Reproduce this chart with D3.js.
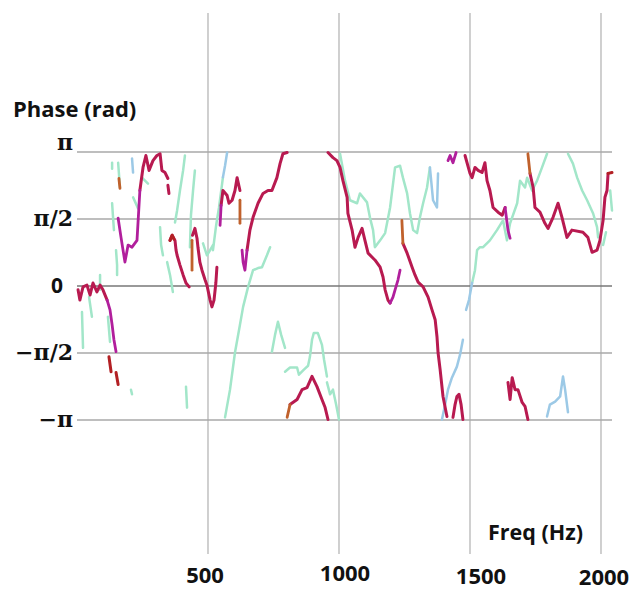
<!DOCTYPE html>
<html><head><meta charset="utf-8">
<script src="https://cdn.jsdelivr.net/npm/d3@7"></script>
<style>body{margin:0;background:#fff}svg{display:block}</style>
</head><body>
<svg id="c" width="632" height="591"></svg>
<script>
// ---- data: [frequency (Hz), phase (rad)] ----
const xTickValues = [500, 1000, 1500, 2000];
const xTickLabels = ["500", "1000", "1500", "2000"];
const yTickValues = [Math.PI, Math.PI / 2, 0, -Math.PI / 2, -Math.PI];
const yTickLabels = ["π", "π/2", "0", "−π/2", "−π"];

const crimsonSegments = [
  [[4,-0.09],[11,-0.33],[23,-0.02],[38,0.02],[50,-0.21],[61,0.07],[76,-0.14],[88,0.02],[99,-0.09],[115,-0.33]],
  [[240,2.24],[252,2.78],[263,3.06],[275,2.71],[290,2.94],[305,3.06],[317,3.10],[324,2.71],[336,2.66],[347,2.52]],
  [[347,2.36],[351,2.17]],
  [[355,1.07],[363,1.19],[374,1.07],[378,0.84],[382,0.72],[393,0.49],[405,0.26],[416,0.07],[428,-0.02]],
  [[441,1.19],[450,1.35],[458,1.12],[462,0.89],[469,0.56],[477,0.37],[489,0.14],[496,0.02],[508,-0.33],[515,-0.49],[523,-0.33],[530,0.07],[534,0.44]],
  [[550,1.89],[557,2.24],[573,2.12],[580,1.94],[592,2.01],[603,2.24],[611,2.54],[622,2.24]],
  [[649,0.84],[660,1.31],[672,1.61],[691,1.94],[710,2.17],[729,2.24],[744,2.24],[763,2.54],[775,2.87],[786,3.10],[802,3.13]],
  [[813,-2.78],[840,-2.66],[859,-2.43],[878,-2.38],[897,-2.12],[916,-2.36],[935,-2.66],[947,-2.85],[958,-3.13]],
  [[958,3.13],[977,3.01],[992,2.94],[1004,2.78],[1015,2.47],[1031,2.08],[1034,1.70],[1050,1.31],[1061,0.91],[1073,1.14],[1088,1.35],[1099,1.07],[1111,0.77],[1137,0.61],[1157,0.44],[1168,0.21],[1176,-0.09],[1187,-0.33],[1195,-0.40]],
  [[1244,1.00],[1260,0.77],[1279,0.44],[1290,0.26],[1302,0.09],[1321,-0.02],[1340,-0.26],[1355,-0.56],[1367,-0.79],[1374,-1.19],[1378,-1.56],[1386,-1.96],[1397,-2.59],[1412,-3.06]],
  [[1435,-3.08],[1443,-2.78],[1450,-2.59],[1458,-2.54],[1466,-2.78],[1473,-3.13]],
  [[1481,3.06],[1500,2.64],[1508,2.54],[1519,2.78],[1531,2.71],[1546,2.66],[1557,2.89],[1565,2.47],[1576,2.24],[1588,1.84],[1607,1.73],[1623,1.66],[1634,1.84]],
  [[1729,2.64],[1741,2.31],[1748,1.84],[1767,1.73],[1786,1.47],[1798,1.35],[1817,1.61],[1836,1.94],[1851,1.61],[1870,1.14],[1889,1.31],[1931,1.26],[1950,1.14],[1966,0.79],[1985,0.84],[1996,1.07],[2008,1.54],[2015,2.08],[2023,2.24],[2027,2.64]],
  [[1645,-2.26],[1653,-2.66],[1661,-2.15],[1672,-2.43],[1683,-2.43],[1699,-2.73],[1710,-2.82],[1721,-3.13]]
];

const darkRedSegments = [
  [[122,-1.66],[130,-2.01]],
  [[149,-2.03],[157,-2.31]],
  [[355,1.07],[363,1.19],[370,1.10]],
  [[2027,2.64],[2042,2.66]]
];

const magentaSegments = [
  [[115,-0.33],[126,-0.56],[134,-0.91],[141,-1.26],[149,-1.54]],
  [[157,1.59],[168,1.14],[183,0.56],[195,0.96],[210,0.91],[229,1.07],[240,2.24]],
  [[546,1.42],[550,1.89]],
  [[630,0.84],[634,0.56],[641,0.37],[649,0.84]],
  [[1195,-0.40],[1206,-0.26],[1214,-0.09],[1225,0.14],[1233,0.37]],
  [[1416,2.94],[1424,3.06],[1435,2.89],[1447,3.13]],
  [[1634,1.84],[1645,1.31],[1653,1.12]]
];

const orangeSegments = [
  [[160,2.52],[164,2.29]],
  [[439,1.07],[439,0.37]],
  [[622,2.01],[622,1.47]],
  [[1240,1.54],[1244,1.00]],
  [[1721,3.10],[1729,2.64]],
  [[802,-3.08],[813,-2.78]]
];

const aquaSegments = [
  [[19,-0.61],[23,-1.45]],
  [[46,-0.26],[57,-0.72]],
  [[88,0.26],[88,-0.09]],
  [[118,-0.72],[126,-1.31]],
  [[206,-2.43],[210,-2.54]],
  [[416,-2.36],[420,-2.85]],
  [[134,2.89],[134,2.75]],
  [[157,2.89],[164,2.31]],
  [[134,1.94],[137,1.66],[141,1.31]],
  [[149,0.84],[153,0.49],[153,0.26]],
  [[214,2.08],[233,1.82]],
  [[248,2.54],[271,2.40]],
  [[412,3.06],[405,2.71],[393,2.24],[382,1.77],[374,1.49]],
  [[450,2.71],[443,2.24],[435,1.66],[431,0.91]],
  [[317,1.38],[321,0.96],[328,0.72]],
  [[344,0.56],[355,0.26],[366,-0.14]],
  [[481,1.00],[496,0.72],[508,0.84],[519,0.96]],
  [[557,2.55],[553,2.36],[542,1.84],[531,1.42],[519,0.84]],
  [[565,-3.08],[584,-2.43],[603,-1.56],[622,-0.91],[634,-0.49],[653,-0.02],[672,0.37],[691,0.42],[706,0.44],[725,0.72],[737,0.91]],
  [[744,-1.54],[756,-1.14],[767,-0.84],[779,-1.14],[794,-1.45]],
  [[794,-2.01],[813,-1.91],[840,-1.91],[847,-2.08],[866,-1.96],[882,-1.87],[889,-1.66],[897,-1.26],[904,-1.10],[919,-1.10],[935,-1.38],[943,-1.73],[954,-2.12]],
  [[954,-2.26],[966,-2.54],[977,-2.43],[989,-2.78],[1000,-3.13]],
  [[1004,3.10],[1023,2.47],[1042,2.01],[1069,1.94],[1080,2.17],[1107,1.96],[1118,1.61],[1130,1.31],[1137,0.91],[1157,1.07],[1176,1.24],[1195,1.84],[1214,2.78],[1233,2.82],[1244,2.54],[1260,2.17],[1271,1.70],[1283,1.31],[1298,1.24],[1309,1.61],[1321,1.94],[1336,2.31],[1347,2.78]],
  [[1508,0.07],[1519,0.37],[1527,0.84],[1538,0.91],[1550,0.91],[1576,1.07],[1603,1.31],[1626,1.54],[1641,1.07],[1653,1.47],[1680,1.94],[1691,2.47],[1710,2.31],[1718,2.54],[1737,2.24],[1756,2.47],[1775,2.78],[1794,3.10]],
  [[1874,3.10],[1893,2.87],[1909,2.54],[1928,2.24],[1947,2.01],[1970,1.70],[1985,1.38],[1989,1.14]],
  [[2008,0.96],[2019,1.26]],
  [[2035,2.24],[2042,1.77]]
];

const blueSegments = [
  [[210,2.99],[214,2.66]],
  [[573,3.13],[565,2.82],[557,2.55]],
  [[1347,2.78],[1359,2.01],[1374,1.84],[1378,2.64]],
  [[1393,-3.13],[1405,-2.78],[1416,-2.43],[1431,-2.15],[1450,-1.89],[1462,-1.61],[1473,-1.26]],
  [[1485,-0.56],[1496,-0.33],[1508,0.07]],
  [[1794,-3.06],[1805,-2.78],[1825,-2.71],[1844,-2.59],[1855,-2.12],[1863,-2.43],[1874,-2.96]]
];

// ---- layout ----
const svg = d3.select("#c");
const x = d3.scaleLinear().domain([0, 2000]).range([77, 601]);
const y = d3.scaleLinear().domain([-Math.PI, Math.PI]).range([420, 152]);
const xMax = 2042;

const grid = svg.append("g");
grid.selectAll("line.v").data(xTickValues).join("line")
  .attr("x1", d => x(d)).attr("x2", d => x(d))
  .attr("y1", 13).attr("y2", 554)
  .attr("stroke", "#c4c4c4").attr("stroke-width", 1.6);
grid.selectAll("line.h").data(yTickValues).join("line")
  .attr("x1", x(0)).attr("x2", x(xMax))
  .attr("y1", d => y(d)).attr("y2", d => y(d))
  .attr("stroke", d => d === 0 ? "#777" : "#a8a8a8").attr("stroke-width", 1.5);

const line = d3.line().x(d => x(d[0])).y(d => y(d[1]));
function draw(segs, color, w) {
  svg.append("g").selectAll("path").data(segs).join("path")
    .attr("d", line).attr("fill", "none").attr("stroke", color)
    .attr("stroke-width", w).attr("stroke-linejoin", "round").attr("stroke-linecap", "round");
}
draw(aquaSegments, "#a2e6c9", 2.5);
draw(blueSegments, "#9cc9e6", 2.5);
draw(crimsonSegments, "#b81a50", 3);
draw(darkRedSegments, "#b32024", 3);
draw(magentaSegments, "#b11f9c", 2.8);
draw(orangeSegments, "#c0612c", 2.8);

// tick labels
const xLabelDx = [-3, 6, 11, 3];
const xLabelY = [583, 581, 584, 585];
svg.append("g").selectAll("text").data(xTickValues).join("text")
  .attr("x", (d, i) => x(d) + xLabelDx[i]).attr("y", (d, i) => xLabelY[i])
  .attr("text-anchor", "middle")
  .attr("font-family", "Open Sans").attr("font-weight", "bold").attr("font-size", 22)
  .attr("fill", "#111").text((d, i) => xTickLabels[i]);

svg.append("g").selectAll("text").data(yTickValues).join("text")
  .attr("x", d => d === 0 ? 63 : 73).attr("y", d => y(d) + (d === Math.PI ? -2 : 7))
  .attr("text-anchor", "end")
  .attr("font-family", d => d === 0 ? "Open Sans" : "DejaVu Serif")
  .attr("font-weight", "bold")
  .attr("font-size", d => d === 0 ? 21 : 22)
  .attr("fill", "#111").text((d, i) => yTickLabels[i]);

svg.append("text").attr("x", 13).attr("y", 117)
  .attr("font-family", "Open Sans").attr("font-weight", "bold").attr("font-size", 22)
  .attr("fill", "#111").text("Phase (rad)");
svg.append("text").attr("x", 488).attr("y", 540)
  .attr("font-family", "Open Sans").attr("font-weight", "bold").attr("font-size", 21.5)
  .attr("fill", "#111").text("Freq (Hz)");
</script>
</body></html>
